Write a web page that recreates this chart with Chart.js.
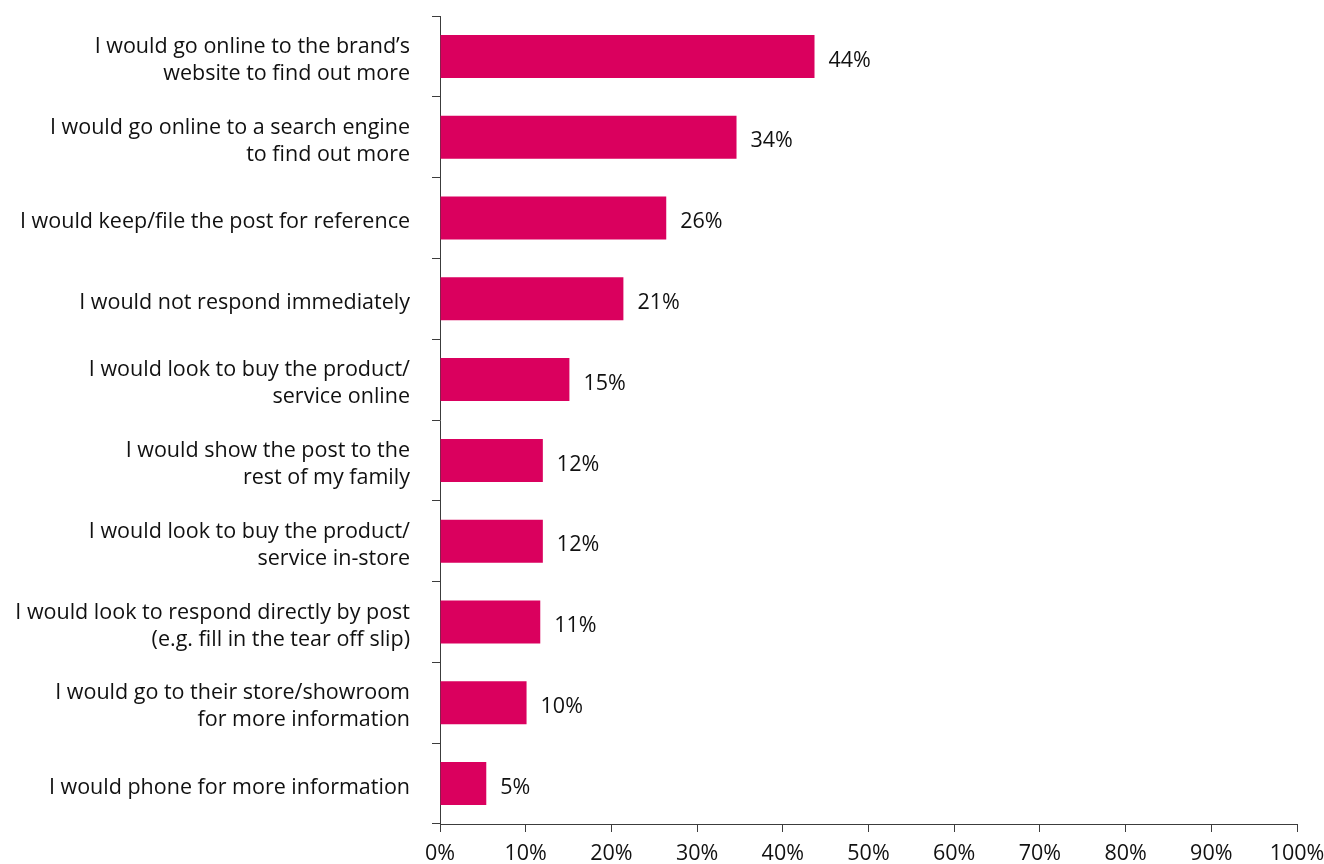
<!DOCTYPE html>
<html>
<head>
<meta charset="utf-8">
<script src="https://cdn.jsdelivr.net/npm/chart.js@4.4.1/dist/chart.umd.min.js"></script>
<style>
  html, body { margin: 0; padding: 0; background: #ffffff; }
  #wrap { width: 1324px; height: 864px; position: relative; }
</style>
</head>
<body>
<div id="wrap"><canvas id="c" width="1324" height="864"></canvas></div>
<script>
const categories = [
  ["I would go online to the brand\u2019s", "website to find out more"],
  ["I would go online to a search engine", "to find out more"],
  "I would keep/file the post for reference",
  "I would not respond immediately",
  ["I would look to buy the product/", "service online"],
  ["I would show the post to the", "rest of my family"],
  ["I would look to buy the product/", "service in-store"],
  ["I would look to respond directly by post", "(e.g. fill in the tear off slip)"],
  ["I would go to their store/showroom", "for more information"],
  "I would phone for more information"
];
const values = [43.7, 34.6, 26.4, 21.4, 15.1, 12.0, 12.0, 11.7, 10.1, 5.4];
const valueLabels = ["44%", "34%", "26%", "21%", "15%", "12%", "12%", "11%", "10%", "5%"];
const xTicks = [0, 10, 20, 30, 40, 50, 60, 70, 80, 90, 100];

const FONT = "'Open Sans', 'Noto Sans', sans-serif";
const FSIZE = 21.5;
const TEXT = '#111111';
const AXIS = '#3c3c3c';

const valueLabelPlugin = {
  id: 'valueLabels',
  afterDatasetsDraw(chart) {
    const ctx = chart.ctx;
    const meta = chart.getDatasetMeta(0);
    ctx.save();
    ctx.font = FSIZE + 'px ' + FONT;
    ctx.fillStyle = TEXT;
    ctx.textAlign = 'left';
    ctx.textBaseline = 'middle';
    meta.data.forEach((bar, i) => {
      ctx.fillText(valueLabels[i], bar.x + 14, bar.y + 4);
    });
    ctx.restore();
  }
};

new Chart(document.getElementById('c'), {
  type: 'bar',
  data: {
    labels: categories,
    datasets: [{
      data: values,
      backgroundColor: '#DA005E',
      borderWidth: 0,
      barPercentage: 0.532,
      categoryPercentage: 1.0
    }]
  },
  options: {
    indexAxis: 'y',
    responsive: false,
    animation: false,
    devicePixelRatio: 1,
    layout: { padding: { top: 16, right: 27, left: 0, bottom: 0 } },
    plugins: {
      legend: { display: false },
      tooltip: { enabled: false }
    },
    scales: {
      x: {
        type: 'linear',
        min: 0,
        max: 100,
        afterBuildTicks(scale) { scale.ticks = xTicks.map(v => ({ value: v })); },
        afterFit(scale) {
          scale.height = 40;
          scale.paddingLeft = 0;
          scale.paddingRight = 0;
        },
        ticks: {
          callback: v => v + '%',
          color: TEXT,
          font: { family: FONT, size: FSIZE },
          padding: 9,
          maxRotation: 0
        },
        grid: {
          drawOnChartArea: false,
          drawTicks: true,
          tickLength: 8,
          color: AXIS,
          lineWidth: 1
        },
        border: { display: true, color: AXIS, width: 1 }
      },
      y: {
        afterFit(scale) {
          scale.width = 440;
          scale.paddingTop = 0;
          scale.paddingBottom = 0;
        },
        ticks: {
          color: TEXT,
          font: { family: FONT, size: FSIZE, lineHeight: 1.26 },
          padding: 22,
          labelOffset: 4,
          autoSkip: false
        },
        grid: {
          offset: true,
          drawOnChartArea: false,
          drawTicks: true,
          tickLength: 8,
          color: AXIS,
          lineWidth: 1
        },
        border: { display: true, color: AXIS, width: 1 }
      }
    }
  },
  plugins: [valueLabelPlugin]
});
</script>
</body>
</html>
